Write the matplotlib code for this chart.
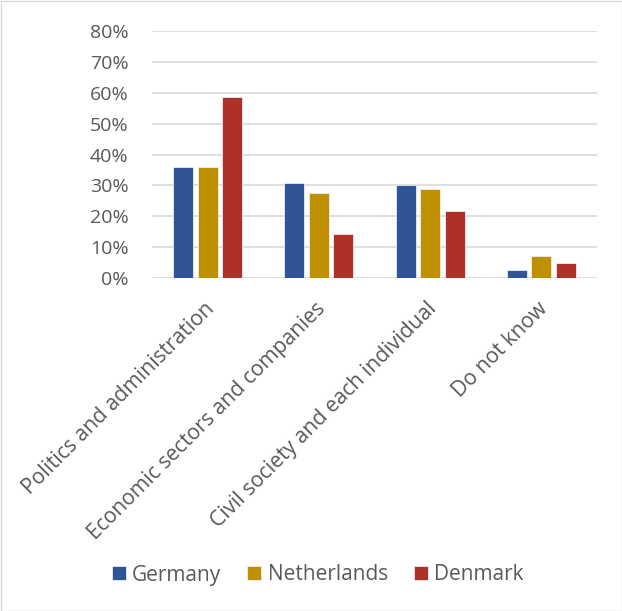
import matplotlib
matplotlib.use("Agg")
import matplotlib.pyplot as plt
import matplotlib.transforms as mtransforms
import numpy as np
from matplotlib.patches import Rectangle

categories = ["Politics and administration", "Economic sectors and companies",
              "Civil society and each individual", "Do not know"]
germany = [36.0, 30.7, 30.2, 2.7]
netherlands = [36.0, 27.5, 28.8, 7.3]
denmark = [58.5, 14.3, 21.8, 5.0]
series_names = ["Germany", "Netherlands", "Denmark"]
colors = ["#2F5597", "#BF9000", "#AE3127"]
yticks = [0, 10, 20, 30, 40, 50, 60, 70, 80]

plt.rcParams['font.family'] = ['Open Sans', 'DejaVu Sans']
W, H = 622, 611
fig = plt.figure(figsize=(W/100, H/100), dpi=100)
fig.patches.append(Rectangle((0.5/W, 0.5/H), 1-1/W, 1-1/H, transform=fig.transFigure,
                             fill=False, edgecolor="#D9D9D9", linewidth=1))
ax = fig.add_axes([152/W, 1-278.3/H, (597-152)/W, (278.3-30.7)/H])

x = np.arange(len(categories))
bw = 0.18
step = 0.22
for i, (vals, name, c) in enumerate(zip([germany, netherlands, denmark], series_names, colors)):
    ax.bar(x + (i-1)*step, vals, width=bw, color=c, edgecolor="#E8ECF4", linewidth=0.6,
           label=name, zorder=3)

ax.set_xlim(-0.5, len(categories)-0.5)
ax.set_ylim(0, 80)
ax.set_yticks(yticks)
ax.set_yticklabels([f"{v}%" for v in yticks])
ax.yaxis.grid(True, color="#D9D9D9", linewidth=1.2, zorder=0)
ax.set_axisbelow(True)
for s in ax.spines.values():
    s.set_visible(False)
ax.tick_params(axis='both', length=0, colors="#595959", labelsize=14)
ax.tick_params(axis='y', pad=17)
ax.set_xticks(x)
ax.set_xticklabels(categories, rotation=45, ha='right', rotation_mode='anchor', fontsize=15.2,
                   color="#595959")
ax.tick_params(axis='x', pad=13)
offset = mtransforms.ScaledTranslation(-4/100, -2/100, fig.dpi_scale_trans)
for lab in ax.get_xticklabels():
    lab.set_transform(lab.get_transform() + offset)

leg = fig.legend(loc='center', bbox_to_anchor=(0.511, 1-575/H), ncol=3, frameon=False,
                 fontsize=15, handlelength=0.67, handleheight=0.67, columnspacing=1.25,
                 handletextpad=0.3)
for t in leg.get_texts():
    t.set_color("#595959")

fig.savefig("out.png", dpi=100)
